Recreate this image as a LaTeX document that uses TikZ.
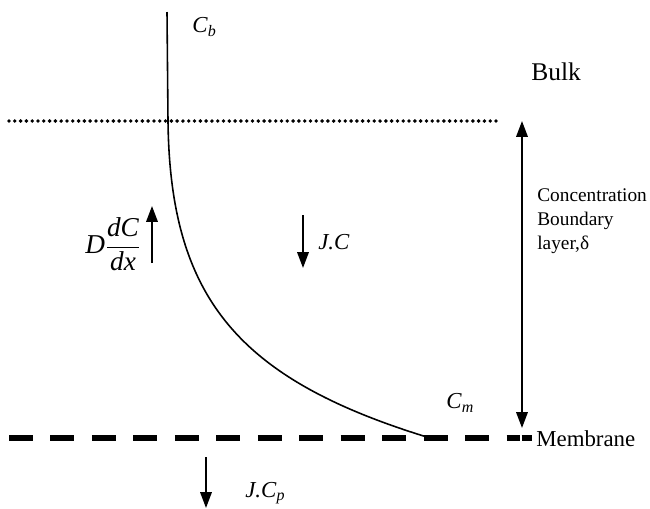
\documentclass[tikz,border=0pt]{standalone}
\usepackage{fontspec}
\setmainfont{Liberation Serif}
\usetikzlibrary{arrows.meta}

\tikzset{
  flux/.style={line width=1.1pt,-{Triangle[length=9pt,width=6.5pt]}},
  lbl/.style={font=\fontsize{13}{15}\selectfont,inner sep=0pt},
  bulkline/.style={line width=2.2pt,line cap=round,dash pattern=on 0pt off 3.3pt},
  membrane/.style={line width=3.4pt,dash pattern=on 13.6pt off 10pt}
}

\begin{document}
\begin{tikzpicture}[x=0.02cm,y=-0.02cm]
\useasboundingbox (0,0) rectangle (650,508);

% bulk edge and membrane
\coordinate (bl) at (9,121);
\coordinate (br) at (497,121);
\draw[bulkline] (bl) -- (br);
\coordinate (ml) at (9,438);
\coordinate (mr) at (520,438);
\draw[membrane] (ml) -- (mr);
\draw[line width=3.4pt] (521.5,438) -- (532,438);

% concentration profile
\draw[line width=0.9pt] (167,12) -- (168,121)
  .. controls (170,300) and (240,380) .. (430,438);

% labels
\node[lbl,anchor=west] (cb) at (192,27) {\textit{C}\textsubscript{\textit{b}}};
\node[lbl,anchor=west,font=\fontsize{14.5}{16}\selectfont] (bulk) at (531,72) {Bulk};
\node[lbl,anchor=west] (cm) at (446,403) {\textit{C}\textsubscript{\textit{m}}};
\node[lbl,anchor=west] (memb) at (536,439) {Membrane};
\node[anchor=west,align=left,inner sep=0pt,font=\fontsize{11}{13.6}\selectfont]
  (layer) at (537,221) {Concentration\\Boundary\\layer,δ};

% boundary layer thickness
\coordinate (dtop) at (522,121);
\coordinate (dbot) at (522,428);
\draw[line width=1.1pt,{Triangle[length=9pt,width=6.5pt]}-{Triangle[length=9pt,width=6.5pt]}] (dtop) -- (dbot);

% back diffusion
\node[anchor=west,inner sep=0pt,font=\fontsize{15.5}{18}\selectfont] (diff) at (85,244)
  {\(\displaystyle \textit{D}\frac{\textit{dC}}{\textit{dx}}\)};
\coordinate (du0) at (152,263);
\coordinate (du1) at (152,206);
\draw[flux] (du0) -- (du1);

% convective flux
\coordinate (jc0) at (303,215);
\coordinate (jc1) at (303,268);
\draw[flux] (jc0) -- (jc1);
\node[lbl,anchor=west] (jc) at (318,242) {\textit{J.C}};

% permeate flux
\coordinate (jp0) at (206,457);
\coordinate (jp1) at (206,508);
\draw[flux] (jp0) -- (jp1);
\node[lbl,anchor=west] (jp) at (245,493) {\textit{J.C}\textsubscript{\textit{p}}};

\end{tikzpicture}
\end{document}
